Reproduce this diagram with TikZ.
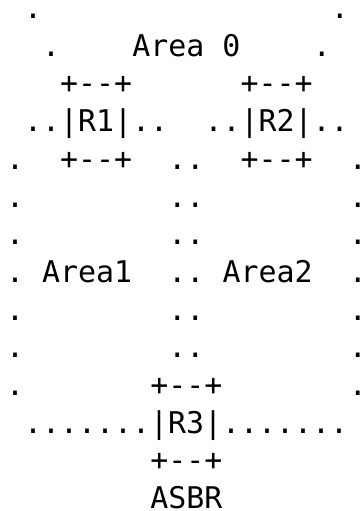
\documentclass[tikz,border=0pt]{standalone}
\usepackage{fontspec}
\newfontfamily\asciifont{DejaVu Sans Mono}
\usepackage{tikz}

\tikzset{
    asc/.style={inner sep=0pt, outer sep=0pt, anchor=base west,
        font=\asciifont\fontsize{29.9pt}{37.7pt}\selectfont}}

\begin{document}
\begin{tikzpicture}[x=18.05pt, y=-37.7pt]

    \useasboundingbox (0pt,0pt) rectangle (361pt,-511pt);

    \begin{scope}[shift={(6pt,-18.5pt)}]
        % area 0
        \node[asc] (t0l) at (1,0) {.};
        \node[asc] (t0r) at (18,0) {.};
        \node[asc] (t1l) at (2,1) {.};
        \node[asc] (A0) at (7,1) {Area 0};
        \node[asc] (t1r) at (17,1) {.};

        % R1 and R2
        \node[asc] (R1top) at (3,2) {+--+};
        \node[asc] (R2top) at (13,2) {+--+};
        \node[asc] (R1) at (1,3) {..|R1|..};
        \node[asc] (R2) at (11,3) {..|R2|..};
        \node[asc] (R1bot) at (3,4) {+--+};
        \node[asc] (R2bot) at (13,4) {+--+};

        % sides of area 1 and area 2
        \foreach \r in {4,...,10} {
            \node[asc] (left\r) at (0,\r) {.};
            \node[asc] (right\r) at (19,\r) {.};
        }
        \foreach \r in {4,...,9}
            \node[asc] (mid\r) at (9,\r) {..};

        \node[asc] (A1) at (2,7) {Area1};
        \node[asc] (A2) at (12,7) {Area2};

        % R3
        \node[asc] (R3top) at (8,10) {+--+};
        \node[asc] (R3) at (1,11) {.......|R3|.......};
        \node[asc] (R3bot) at (8,12) {+--+};
        \node[asc] (asbr) at (8,13) {ASBR};
    \end{scope}

\end{tikzpicture}
\end{document}
